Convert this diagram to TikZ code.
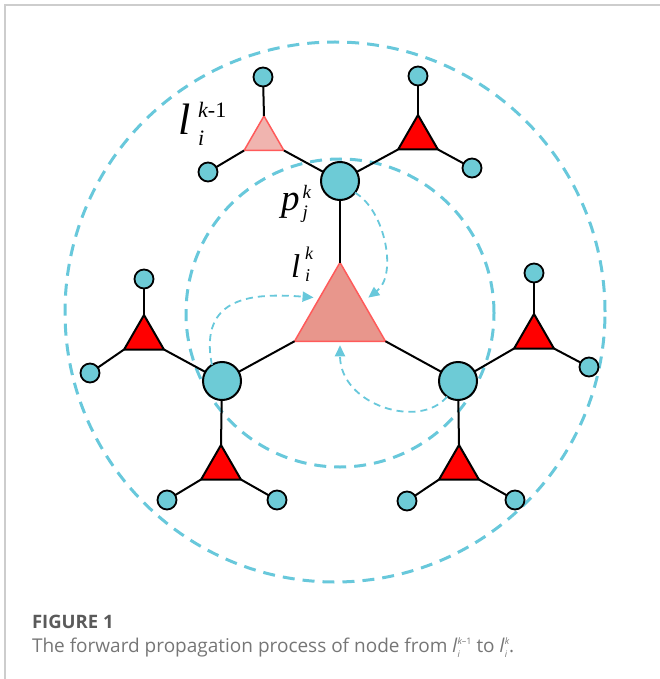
\documentclass[tikz,border=0pt]{standalone}
\usepackage{fontspec}
\setmainfont{Liberation Serif}
\newfontfamily\capfont{Open Sans}
\usetikzlibrary{shapes.geometric,arrows.meta,calc}
\definecolor{cy}{RGB}{109,203,214}
\definecolor{dcy}{RGB}{104,200,219}
\definecolor{trimain}{RGB}{232,150,140}
\definecolor{trilight}{RGB}{240,180,175}
\definecolor{triedge}{RGB}{255,90,90}
\definecolor{framegray}{RGB}{205,205,205}
\definecolor{capdark}{RGB}{90,90,90}
\definecolor{capgray}{RGB}{118,118,118}
\begin{document}
\begin{tikzpicture}[x=1pt,y=-1pt,
  bigc/.style={circle,draw=black,fill=cy,line width=2pt,minimum size=38pt,inner sep=0pt,outer sep=0pt},
  smallc/.style={circle,draw=black,fill=cy,line width=1.8pt,minimum size=19pt,inner sep=0pt,outer sep=0pt},
  redtri/.style={regular polygon,regular polygon sides=3,draw=black,fill=red,line width=2pt,minimum size=46pt,inner sep=0pt,outer sep=0pt},
  lighttri/.style={regular polygon,regular polygon sides=3,draw=triedge,fill=trilight,line width=1.5pt,minimum size=46pt,inner sep=0pt,outer sep=0pt},
  maintri/.style={regular polygon,regular polygon sides=3,draw=triedge,fill=trimain,line width=1.5pt,minimum size=105pt,inner sep=0pt,outer sep=0pt},
  link/.style={line width=2pt,draw=black},
  ring/.style={draw=dcy,line width=3pt,dash pattern=on 12pt off 8pt},
  flow/.style={draw=dcy,line width=1.8pt,dash pattern=on 7pt off 5pt,-{Triangle[length=11pt,width=10pt]},shorten >=5pt},
  lab/.style={anchor=base west,inner sep=0pt,outer sep=0pt}
]
\useasboundingbox (0,0) rectangle (660,679);
\draw[framegray,line width=1.5pt] (5,679) -- (5,5) -- (660,5);

% dashed rings
\draw[ring] (335,312) circle (270pt);
\draw[ring] (340,313) circle (154pt);

% main nodes
\node[maintri] (T) at (340,315) {};
\node[bigc] (P) at (340,181) {};
\node[bigc] (L) at (222,381) {};
\node[bigc] (R) at (458,381) {};

% satellite triangles
\node[lighttri] (TL) at (264,139) {};
\node[redtri] (TR) at (418,138) {};
\node[redtri] (LU) at (144,338) {};
\node[redtri] (LD) at (221,468) {};
\node[redtri] (RU) at (534,337) {};
\node[redtri] (RD) at (459,468) {};

% small circles
\node[smallc] (s1) at (263,77) {};
\node[smallc] (s2) at (208,172) {};
\node[smallc] (s3) at (418,76) {};
\node[smallc] (s4) at (472,168) {};
\node[smallc] (s5) at (144,279) {};
\node[smallc] (s6) at (90,373) {};
\node[smallc] (s7) at (167,500) {};
\node[smallc] (s8) at (277,500) {};
\node[smallc] (s9) at (534,273) {};
\node[smallc] (s10) at (589,367) {};
\node[smallc] (s11) at (407,501) {};
\node[smallc] (s12) at (515,500) {};

% links
\draw[link] (P) -- (T.corner 1);
\draw[link] (L) -- (T.corner 2);
\draw[link] (R) -- (T.corner 3);
\draw[link] (P) -- (TL.corner 3);
\draw[link] (P) -- (TR.corner 2);
\draw[link] (TL.corner 1) -- (s1);
\draw[link] (TL.corner 2) -- (s2);
\draw[link] (TR.corner 1) -- (s3);
\draw[link] (TR.corner 3) -- (s4);
\draw[link] (L) -- (LU.corner 3);
\draw[link] (L) -- (LD.corner 1);
\draw[link] (LU.corner 1) -- (s5);
\draw[link] (LU.corner 2) -- (s6);
\draw[link] (LD.corner 2) -- (s7);
\draw[link] (LD.corner 3) -- (s8);
\draw[link] (R) -- (RU.corner 2);
\draw[link] (R) -- (RD.corner 1);
\draw[link] (RU.corner 1) -- (s9);
\draw[link] (RU.corner 3) -- (s10);
\draw[link] (RD.corner 2) -- (s11);
\draw[link] (RD.corner 3) -- (s12);

% flow arrows
\draw[flow,shorten >=7pt] (P.-38) .. controls (385,210) and (398,275) .. (T.side 3);
\draw[flow,shorten >=6pt] (L.122) .. controls (198,295) and (255,293) .. ($(T.corner 1)!0.45!(T.corner 2)$);
\draw[flow,shorten >=4pt] (R.235) .. controls (420,430) and (340,405) .. (T.side 2);

% labels
\node[lab] (lab1) at (178,135) {\fontsize{44}{44}\selectfont\itshape l\hspace{8pt}\rlap{\raisebox{-11pt}{\fontsize{22}{22}\selectfont\itshape i}}\raisebox{17pt}{\fontsize{22}{22}\selectfont\itshape k\upshape -1}};
\node[lab] (lab2) at (281,210) {\fontsize{37}{37}\selectfont\itshape p\hspace{3pt}\rlap{\raisebox{-8pt}{\fontsize{19}{19}\selectfont\itshape j}}\raisebox{12pt}{\fontsize{19}{19}\selectfont\itshape k}};
\node[lab] (lab3) at (291,277) {\fontsize{33}{33}\selectfont\itshape l\hspace{5pt}\rlap{\raisebox{-4pt}{\fontsize{18}{18}\selectfont\itshape i}}\raisebox{18pt}{\fontsize{18}{18}\selectfont\itshape k}};

% caption
\node[lab,text=capdark] (fig) at (32,628) {\capfont\bfseries\fontsize{18.5}{18.5}\selectfont FIGURE 1};
\node[lab,text=capgray] (cap) at (32,652) {\capfont\fontsize{19}{19}\selectfont The forward propagation process of node from \textit{l}\rlap{\raisebox{-5pt}{\fontsize{9}{9}\selectfont\itshape i}}\raisebox{8pt}{\fontsize{9}{9}\selectfont\itshape k\upshape –1} to \textit{l}\rlap{\raisebox{-5pt}{\fontsize{9}{9}\selectfont\itshape i}}\raisebox{8pt}{\fontsize{9}{9}\selectfont\itshape k}.};
\end{tikzpicture}
\end{document}
